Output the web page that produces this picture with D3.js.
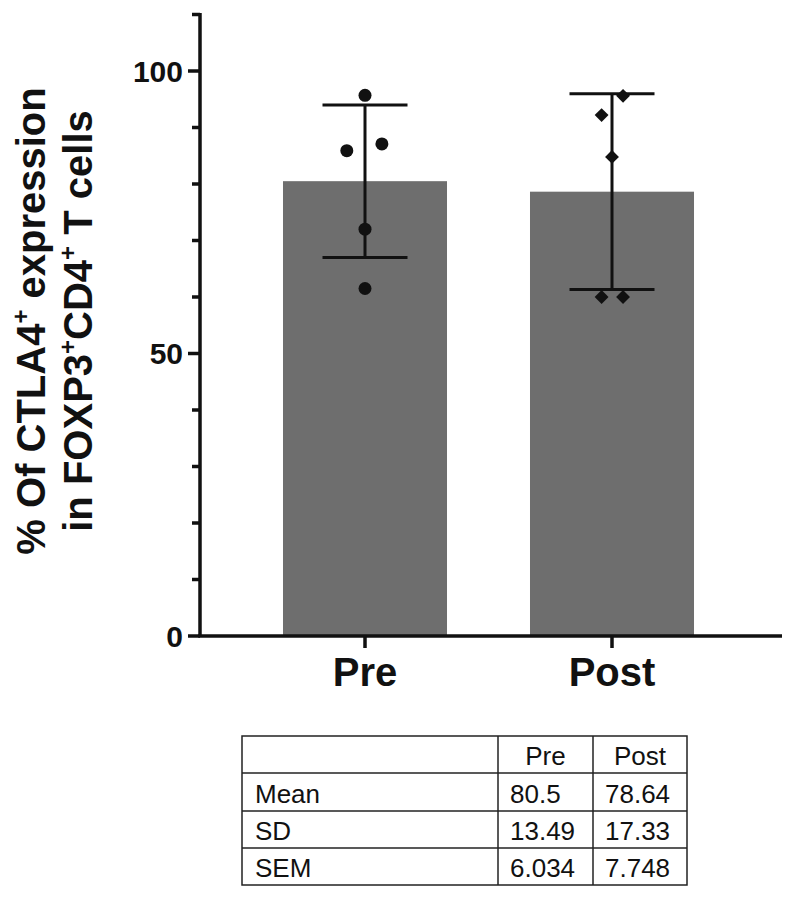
<!DOCTYPE html>
<html>
<head>
<meta charset="utf-8">
<script src="https://cdn.jsdelivr.net/npm/d3@7"></script>
<style>
  html, body { margin: 0; padding: 0; background: #fff; }
  svg { display: block; font-family: "Liberation Sans", Arial, Helvetica, sans-serif; }
</style>
</head>
<body>
<svg id="chart" width="792" height="900"></svg>
<script>
// ---- data ----
const categories = ["Pre", "Post"];
const preValues  = [95.7, 85.9, 87.1, 72, 61.5];
const postValues = [95.6, 92.2, 84.8, 60, 60];
const preJitter  = [0, -1.4, 1.3, 0, 0];      // horizontal spread, in point diameters
const postJitter = [0.85, -0.8, 0, -0.8, 0.85];
const meanValues = [80.5, 78.64];
const sdValues   = [13.49, 17.33];
const semValues  = [6.034, 7.748];
const yMajorTicks = [0, 50, 100];
const yMinorTicks = [10, 20, 30, 40, 60, 70, 80, 90, 110];
const statLabels = ["Mean", "SD", "SEM"];

const svg = d3.select("#chart");

const y = d3.scaleLinear().domain([0, 110]).range([636, 14.5]);
const x = d3.scaleBand().domain(categories).range([241.5, 735.5])
  .paddingInner(0.336).paddingOuter(0.168);

// bars
svg.append("g").selectAll("rect").data(categories).join("rect")
  .attr("x", d => x(d))
  .attr("width", x.bandwidth())
  .attr("y", (d, i) => y(meanValues[i]))
  .attr("height", (d, i) => y(0) - y(meanValues[i]))
  .attr("fill", "#6e6e6e");

// error bars (SD)
const capW = 85;
const eb = svg.append("g").attr("stroke", "#111").attr("stroke-width", 3).attr("fill", "none");
categories.forEach((c, i) => {
  const cx = x(c) + x.bandwidth() / 2;
  const lo = y(meanValues[i] - sdValues[i]);
  const hi = y(meanValues[i] + sdValues[i]);
  eb.append("line").attr("x1", cx).attr("x2", cx).attr("y1", lo).attr("y2", hi);
  eb.append("line").attr("x1", cx - capW / 2).attr("x2", cx + capW / 2).attr("y1", lo).attr("y2", lo);
  eb.append("line").attr("x1", cx - capW / 2).attr("x2", cx + capW / 2).attr("y1", hi).attr("y2", hi);
});

// points
const ptD = 13;
const preCx = x("Pre") + x.bandwidth() / 2;
svg.append("g").selectAll("circle").data(preValues).join("circle")
  .attr("cx", (d, i) => preCx + preJitter[i] * ptD)
  .attr("cy", d => y(d))
  .attr("r", ptD / 2)
  .attr("fill", "#111");

const postCx = x("Post") + x.bandwidth() / 2;
const diamond = d3.symbol().type(d3.symbolSquare).size(96);
svg.append("g").selectAll("path").data(postValues).join("path")
  .attr("d", diamond)
  .attr("transform", (d, i) => `translate(${postCx + postJitter[i] * ptD},${y(d)}) rotate(45)`)
  .attr("fill", "#111");

// y axis
const yAxisG = svg.append("g").attr("transform", "translate(200,0)");
yAxisG.append("line").attr("x1", 0).attr("x2", 0).attr("y1", y(110) - 1.5).attr("y2", y(0))
  .attr("stroke", "#111").attr("stroke-width", 3.5);
yAxisG.selectAll("line.minor").data(yMinorTicks).join("line").attr("class", "minor")
  .attr("x1", -8).attr("x2", 0).attr("y1", d => y(d)).attr("y2", d => y(d))
  .attr("stroke", "#111").attr("stroke-width", 3.5);
yAxisG.selectAll("line.major").data(yMajorTicks).join("line").attr("class", "major")
  .attr("x1", -12).attr("x2", 0).attr("y1", d => y(d)).attr("y2", d => y(d))
  .attr("stroke", "#111").attr("stroke-width", 3.5);
yAxisG.selectAll("text").data(yMajorTicks).join("text")
  .attr("x", -17).attr("y", d => y(d)).attr("dy", "0.36em")
  .attr("text-anchor", "end").attr("font-size", 30).attr("font-weight", "bold")
  .attr("fill", "#111").text(d => d);

// x axis
const xAxisG = svg.append("g");
xAxisG.append("line").attr("x1", 198.25).attr("x2", 782).attr("y1", y(0)).attr("y2", y(0))
  .attr("stroke", "#111").attr("stroke-width", 3.5);
xAxisG.selectAll("line.tick").data(categories).join("line").attr("class", "tick")
  .attr("x1", d => x(d) + x.bandwidth() / 2).attr("x2", d => x(d) + x.bandwidth() / 2)
  .attr("y1", y(0)).attr("y2", y(0) + 12)
  .attr("stroke", "#111").attr("stroke-width", 3.5);
xAxisG.selectAll("text").data(categories).join("text")
  .attr("x", d => x(d) + x.bandwidth() / 2).attr("y", 686)
  .attr("text-anchor", "middle").attr("font-size", 40).attr("font-weight", "bold")
  .attr("fill", "#111").text(d => d);

// y axis title
const title = svg.append("g").attr("transform", "translate(0,321) rotate(-90)")
  .attr("font-size", 40).attr("font-weight", "bold").attr("fill", "#111").attr("text-anchor", "middle");
const t1 = title.append("text").attr("x", 0).attr("y", 45);
t1.append("tspan").text("% Of CTLA4");
t1.append("tspan").attr("font-size", 24).attr("dy", -16).text("+");
t1.append("tspan").attr("dy", 16).text(" expression");
const t2 = title.append("text").attr("x", 0).attr("y", 92);
t2.append("tspan").text("in FOXP3");
t2.append("tspan").attr("font-size", 24).attr("dy", -16).text("+");
t2.append("tspan").attr("dy", 16).text("CD4");
t2.append("tspan").attr("font-size", 24).attr("dy", -16).text("+");
t2.append("tspan").attr("dy", 16).text(" T cells");

// stats table
const colX = [242, 498, 593, 687];
const rowY = [736, 773, 811, 848, 885];
const tbl = svg.append("g");
tbl.append("rect").attr("x", colX[0]).attr("y", rowY[0])
  .attr("width", colX[3] - colX[0]).attr("height", rowY[4] - rowY[0])
  .attr("fill", "none").attr("stroke", "#222").attr("stroke-width", 1.5);
rowY.slice(1, 4).forEach(ry => tbl.append("line")
  .attr("x1", colX[0]).attr("x2", colX[3]).attr("y1", ry).attr("y2", ry)
  .attr("stroke", "#222").attr("stroke-width", 1.5));
colX.slice(1, 3).forEach(cx => tbl.append("line")
  .attr("x1", cx).attr("x2", cx).attr("y1", rowY[0]).attr("y2", rowY[4])
  .attr("stroke", "#222").attr("stroke-width", 1.5));

const tFont = 26;
categories.forEach((c, j) => tbl.append("text")
  .attr("x", (colX[j + 1] + colX[j + 2]) / 2).attr("y", rowY[1] - 8)
  .attr("text-anchor", "middle").attr("font-size", tFont).attr("fill", "#111").text(c));
const statRows = [meanValues, sdValues, semValues];
statLabels.forEach((lab, r) => {
  tbl.append("text").attr("x", colX[0] + 13).attr("y", rowY[r + 2] - 8)
    .attr("font-size", tFont).attr("fill", "#111").text(lab);
  statRows[r].forEach((v, j) => tbl.append("text")
    .attr("x", colX[j + 1] + 12).attr("y", rowY[r + 2] - 8)
    .attr("font-size", tFont).attr("fill", "#111").text(String(v)));
});
</script>
</body>
</html>
